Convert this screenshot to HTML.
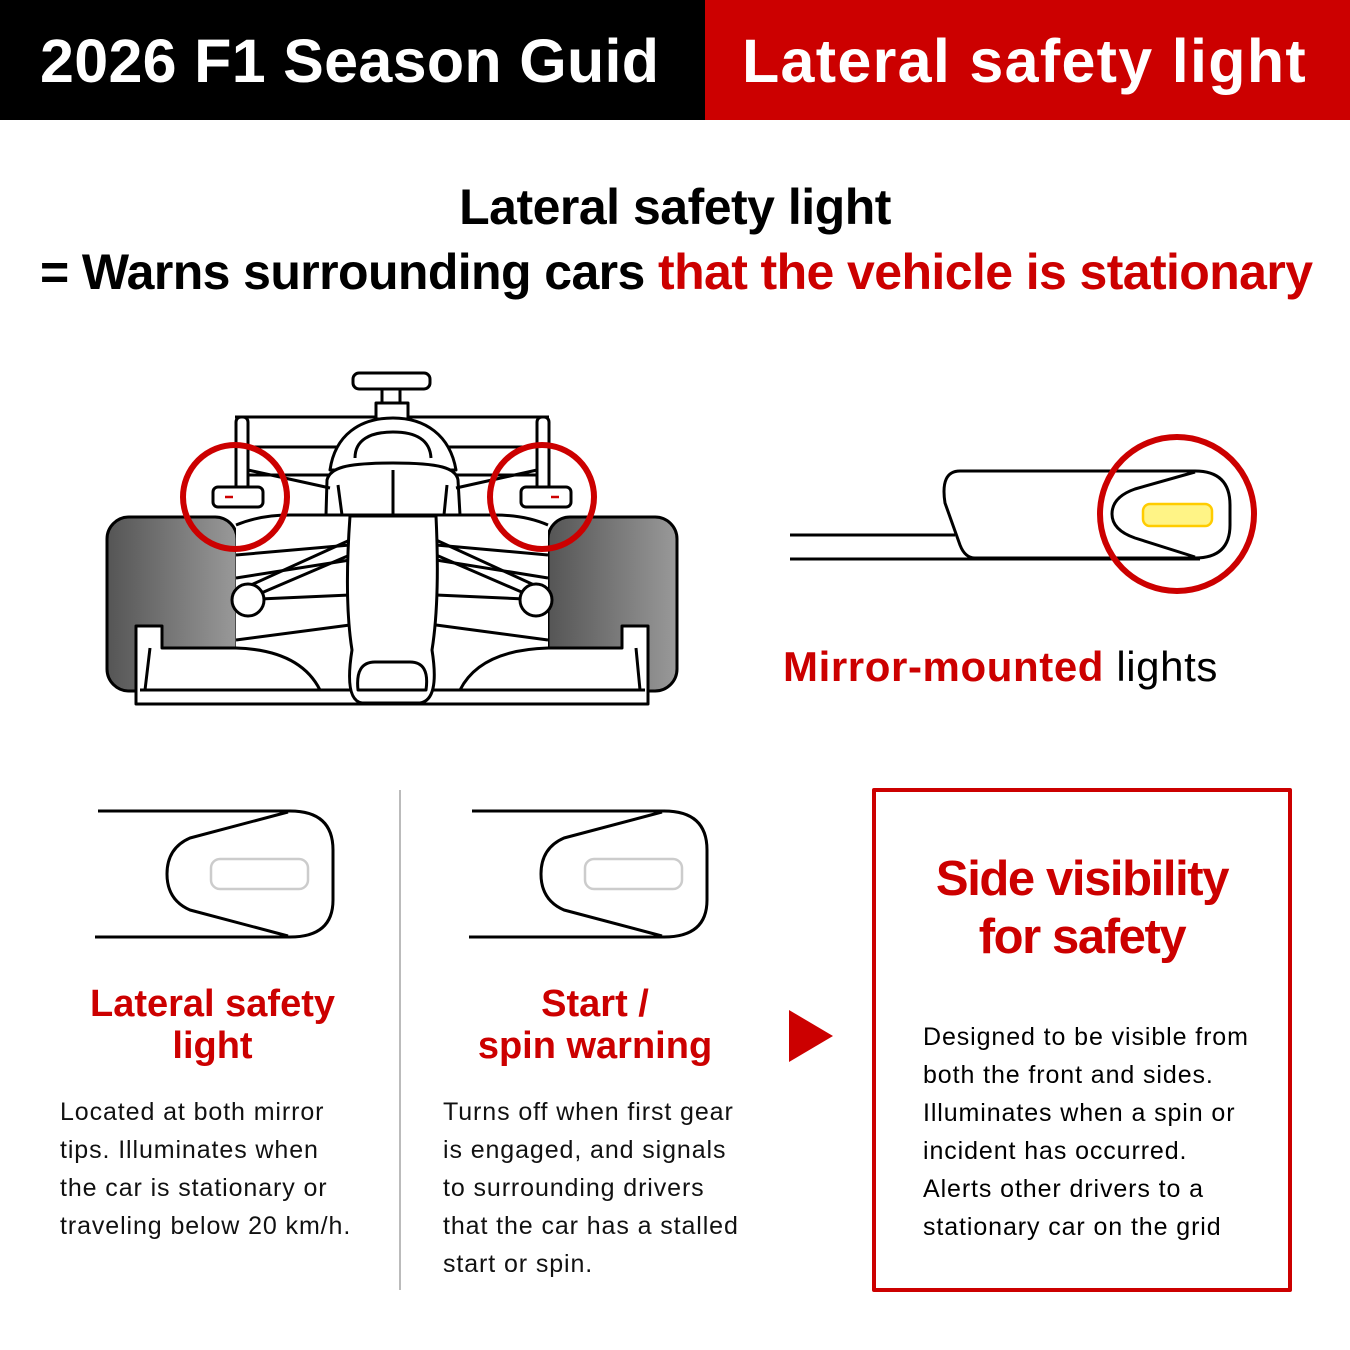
<!DOCTYPE html>
<html><head><meta charset="utf-8"><style>
body{margin:0;width:1350px;height:1350px;background:#fff;position:relative;overflow:hidden;font-family:"Liberation Sans","DejaVu Sans",sans-serif}
.a{position:absolute}
.red{color:#cc0000}
.body{font-size:25px;line-height:38px;white-space:nowrap;letter-spacing:0.9px;color:#111}
</style></head><body>
<div class="a" style="left:0;top:0;width:705px;height:120px;background:#000"></div>
<div class="a" style="left:705px;top:0;width:645px;height:120px;background:#cc0000"></div>
<div class="a" style="left:40px;top:26px;color:#fff;font-size:61px;font-weight:bold;white-space:nowrap;letter-spacing:0.3px">2026 F1 Season Guid</div>
<div class="a" style="left:742px;top:26px;color:#fff;font-size:61px;font-weight:bold;white-space:nowrap;letter-spacing:1.3px">Lateral safety light</div>
<div class="a" style="left:0;width:1350px;top:178px;text-align:center;font-size:50px;font-weight:bold;letter-spacing:-0.5px">Lateral safety light</div>
<div class="a" style="left:40px;top:243px;font-size:50px;font-weight:bold;white-space:nowrap;letter-spacing:-0.6px">= Warns surrounding cars <span class="red">that the vehicle is stationary</span></div>

<svg class="a" style="left:0;top:0" width="1350" height="1350" fill="none" stroke="#000" stroke-width="3" stroke-linejoin="round">
<defs><linearGradient id="g" x1="0" x2="1"><stop offset="0" stop-color="#555"/><stop offset="1" stop-color="#999"/></linearGradient></defs>
<rect x="107" y="517" width="130" height="174" rx="22" fill="url(#g)"/>
<rect x="548" y="517" width="129" height="174" rx="22" fill="url(#g)"/>
<rect x="236" y="515" width="312" height="180" fill="#fff" stroke="none"/>
<rect x="235" y="417" width="314" height="100" fill="#fff" stroke="none"/>
<path d="M235 417H549M235 447H549M235 475H549"/>
<rect x="236" y="417" width="12" height="75" rx="5" fill="#fff"/>
<rect x="537" y="417" width="12" height="75" rx="5" fill="#fff"/>
<rect x="353" y="373" width="77" height="16" rx="6" fill="#fff"/>
<rect x="382" y="389" width="18" height="15" fill="#fff"/>
<rect x="376" y="403" width="32" height="16" fill="#fff"/>
<path d="M330 470C335 435 360 418 393 418C425 418 450 435 456 470Z" fill="#fff"/>
<path d="M355 458C355 440 370 432 393 432C416 432 430 440 431 458" />
<path d="M327 480C330 468 345 463 393 463C440 463 456 468 458 480L460 515H326Z" fill="#fff"/>
<path d="M338 485L342 515M447 485L444 515M393 470V515"/>
<path d="M248 470L330 488M537 470L456 488"/>
<path d="M236 525Q260 515 290 515H495Q525 515 548 525"/>
<path d="M236 555L350 545M548 555L436 545M236 578L350 560M548 578L436 560M236 600L350 595M548 600L436 595M236 640L350 625M548 640L436 625"/>
<path d="M240 590L350 540M245 600L350 555M545 590L436 540M540 600L436 555"/>
<circle cx="248" cy="600" r="16" fill="#fff"/><circle cx="536" cy="600" r="16" fill="#fff"/>
<rect x="213" y="487" width="50" height="20" rx="5" fill="#fff"/>
<rect x="521" y="487" width="50" height="20" rx="5" fill="#fff"/>
<path d="M225 497h8M551 497h8" stroke="#cc0000" stroke-width="2.5"/>
<path d="M136 626H162V648H236Q300 650 320 690H460Q480 650 548 648H622V626H648V704H136Z" fill="#fff"/>
<path d="M150 648L145 690M636 648L640 690M140 690H645"/>
<path d="M350 516H436Q440 600 432 650Q440 700 420 703H362Q344 700 352 650Q344 600 350 516Z" fill="#fff"/>
<path d="M358 690Q355 662 375 662H410Q430 662 426 690Z" fill="#fff"/>
<circle cx="235" cy="497" r="52" stroke="#cc0000" stroke-width="6"/>
<circle cx="542" cy="497" r="52" stroke="#cc0000" stroke-width="6"/>

<path d="M790 535H955M790 559H1200"/>
<path d="M960 471H1195Q1230 471 1230 505V525Q1230 558 1195 558H975Q965 558 960 545L945 503Q940 471 960 471Z" fill="#fff"/>
<path d="M1195 472L1135 489Q1112 497 1112 514Q1112 530 1135 538L1195 557"/>
<rect x="1143" y="504" width="69" height="22" rx="7" fill="#fff486" stroke="#ffcc00" stroke-width="2.5"/>
<circle cx="1177" cy="514" r="77" stroke="#cc0000" stroke-width="6"/>

<g>
<path d="M98 811H290Q333 811 333 850V900Q333 937 290 937H95"/>
<path d="M288 812L190 838Q167 848 167 874Q167 900 190 910L288 936"/>
<rect x="211" y="859" width="97" height="30" rx="9" stroke="#ccc" stroke-width="2.5"/>
</g>
<g transform="translate(374 0)">
<path d="M98 811H290Q333 811 333 850V900Q333 937 290 937H95"/>
<path d="M288 812L190 838Q167 848 167 874Q167 900 190 910L288 936"/>
<rect x="211" y="859" width="97" height="30" rx="9" stroke="#ccc" stroke-width="2.5"/>
</g>
<path d="M400 790V1290" stroke="#bbb" stroke-width="2"/>
<path d="M789 1010L833 1036L789 1062Z" fill="#cc0000" stroke="none"/>
<rect x="874" y="790" width="416" height="500" stroke="#cc0000" stroke-width="4"/>
</svg>

<div class="a" style="left:783px;top:643px;font-size:42px;white-space:nowrap;letter-spacing:0.6px"><b class="red">Mirror-mounted</b> lights</div>

<div class="a red" style="left:60px;width:305px;top:983px;text-align:center;font-size:38px;font-weight:bold;line-height:42px">Lateral safety<br>light</div>
<div class="a body" style="left:60px;top:1093px">Located at both mirror<br>tips. Illuminates when<br>the car is stationary or<br>traveling below 20 km/h.</div>

<div class="a red" style="left:440px;width:310px;top:983px;text-align:center;font-size:38px;font-weight:bold;line-height:42px">Start /<br>spin warning</div>
<div class="a body" style="left:443px;top:1093px">Turns off when first gear<br>is engaged, and signals<br>to surrounding drivers<br>that the car has a stalled<br>start or spin.</div>

<div class="a red" style="left:874px;width:416px;top:850px;text-align:center;font-size:49px;font-weight:bold;line-height:58px;letter-spacing:-1.4px">Side visibility<br>for safety</div>
<div class="a body" style="left:923px;top:1018px;color:#000">Designed to be visible from<br>both the front and sides.<br>Illuminates when a spin or<br>incident has occurred.<br>Alerts other drivers to a<br>stationary car on the grid</div>
</body></html>
